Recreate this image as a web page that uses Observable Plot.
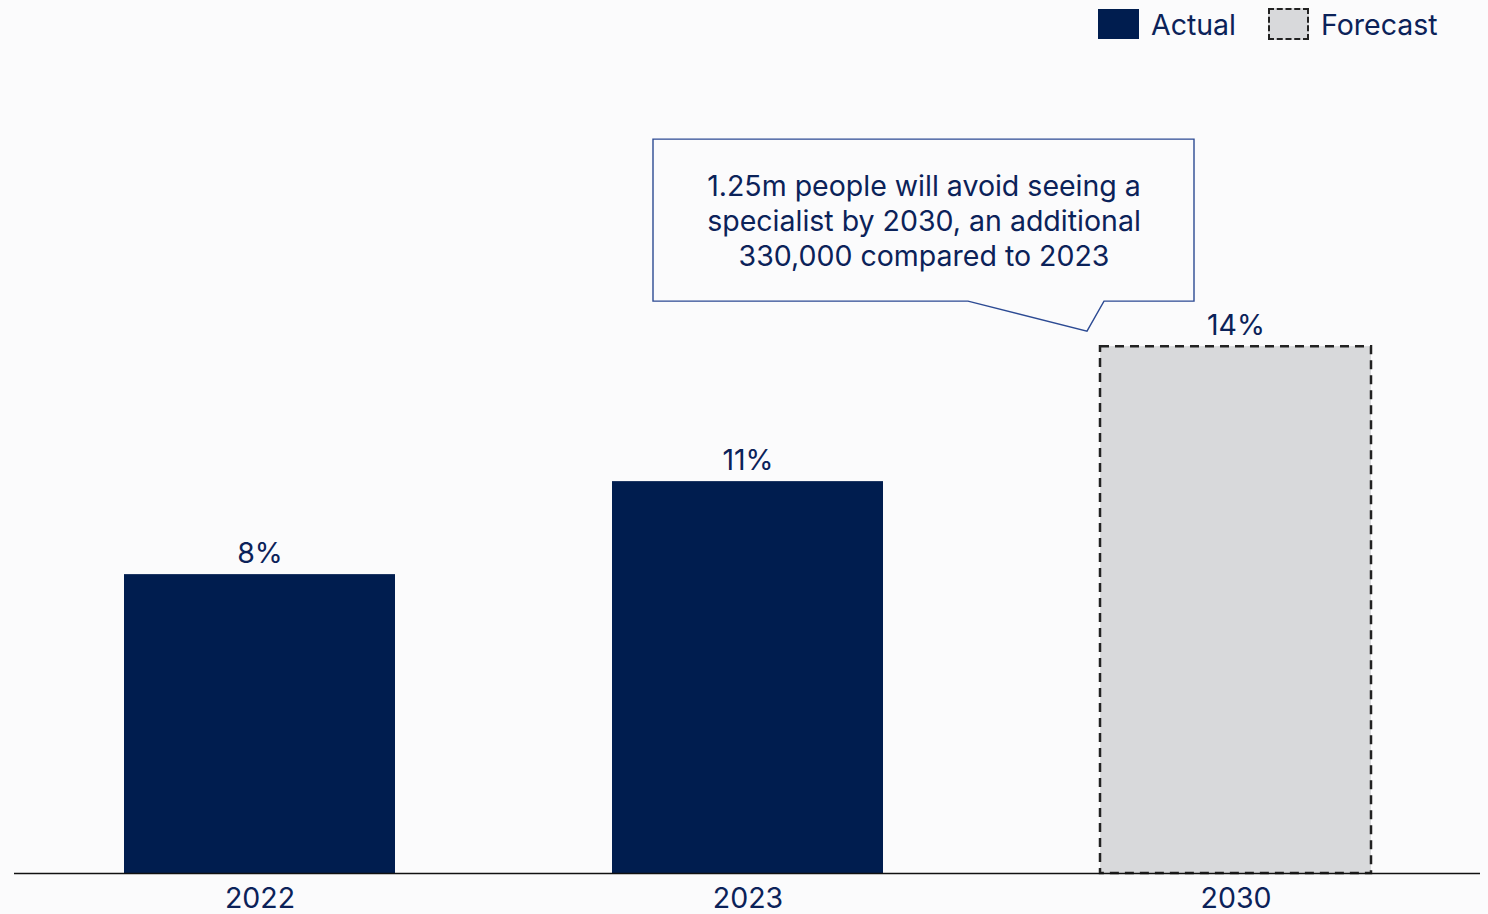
<!DOCTYPE html>
<html>
<head>
<meta charset="utf-8">
<script src="https://cdn.jsdelivr.net/npm/d3@7"></script>
<script src="https://cdn.jsdelivr.net/npm/@observablehq/plot@0.6"></script>
<style>
  html, body { margin: 0; padding: 0; background: #fbfbfc; }
  body { width: 1488px; height: 914px; overflow: hidden; font-family: Inter, Roboto, sans-serif; color: #0b2259; }
  #legend { height: 50px; position: relative; }
  .sw { position: absolute; box-sizing: border-box; }
  .lt { position: absolute; font-size: 28.5px; line-height: 30px; color: #0b2259; }
  svg { display: block; }
</style>
</head>
<body>
<div id="legend">
  <div class="sw" style="left:1098px; top:9px; width:41px; height:30px; background:#001d4f;"></div>
  <div class="lt" style="left:1151px; top:10px;">Actual</div>
  <div class="sw" style="left:1268px; top:8px; width:41px; height:32px; background:#d8d9db; border:2.5px dashed #222;"></div>
  <div class="lt" style="left:1321px; top:10px;">Forecast</div>
</div>
<div id="chart"></div>
<script>
const years = ["2022", "2023", "2030"];
const values = [7.97, 10.45, 14.05];
const valueLabels = ["8%", "11%", "14%"];
const status = ["Actual", "Actual", "Forecast"];
const calloutText = "1.25m people will avoid seeing a\nspecialist by 2030, an additional\n330,000 compared to 2023";

const data = years.map((y, i) => ({year: y, value: values[i], label: valueLabels[i], status: status[i]}));
const actual = data.filter(d => d.status === "Actual");
const forecast = data.filter(d => d.status === "Forecast");
const navy = "#001d4f";
const textColor = "#0b2259";

function calloutBox(index, scales) {
  const x0 = scales.x("2030");
  const y0 = scales.y(values[2]);
  const left = x0 - 447, right = x0 + 94, top = y0 - 207, bottom = y0 - 45;
  const tipX = x0 - 13, tipY = y0 - 15;
  const p = `M${left},${top}H${right}V${bottom}H${x0 + 4}L${tipX},${tipY}L${x0 - 132},${bottom}H${left}Z`;
  const g = d3.create("svg:g");
  g.append("path").attr("d", p).attr("fill", "#fbfbfc").attr("stroke", "#2c4a93").attr("stroke-width", 1.4);
  return g.node();
}

const chart = Plot.plot({
  width: 1488,
  height: 864,
  marginLeft: 14,
  marginRight: 8,
  marginTop: 73,
  marginBottom: 41,
  style: {background: "transparent", fontFamily: "Inter, Roboto, sans-serif", color: textColor},
  x: {domain: years, paddingInner: 0.4455, paddingOuter: 0.2228, label: null},
  y: {domain: [0, 20], axis: null},
  marks: [
    Plot.barY(actual, {x: "year", y: "value", fill: navy}),
    Plot.barY(forecast, {x: "year", y: "value", fill: "#d8d9db", stroke: "#222", strokeWidth: 2.5, strokeDasharray: "9,6"}),
    Plot.ruleY([0], {stroke: "#111", strokeWidth: 1.5}),
    Plot.text(data, {x: "year", y: "value", text: "label", dy: -12, lineAnchor: "bottom", fontSize: 28.5, fill: textColor}),
    Plot.axisX({tickSize: 0, tickPadding: 14, fontSize: 28.5, fill: textColor, label: null}),
    calloutBox,
    Plot.text([calloutText], {x: () => "2030", y: () => values[2], dx: -312, dy: -127, lineAnchor: "middle", lineHeight: 1.23, fontSize: 28.5, fill: textColor})
  ]
});
document.getElementById("chart").appendChild(chart);
</script>
</body>
</html>
